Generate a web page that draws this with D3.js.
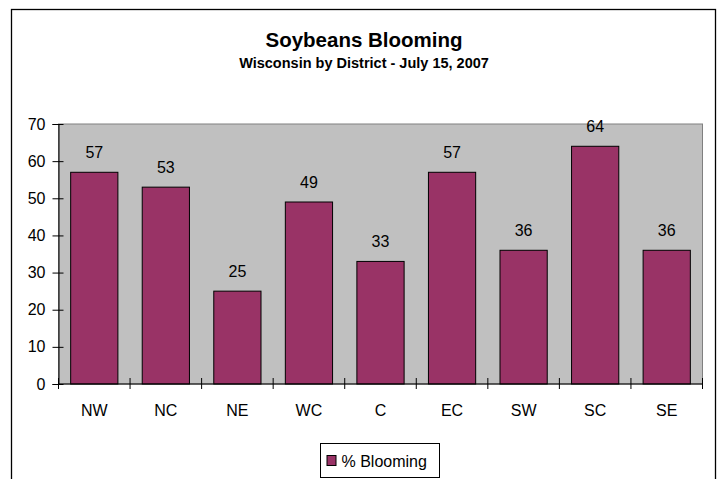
<!DOCTYPE html>
<html>
<head>
<meta charset="utf-8">
<script src="https://cdn.jsdelivr.net/npm/d3@7"></script>
<style>
  body { margin: 0; background: #fff; }
  text { font-family: "Liberation Sans", Arial, sans-serif; fill: #000; }
</style>
</head>
<body>
<div id="chart-holder"></div>
<script>
var districts = ["NW", "NC", "NE", "WC", "C", "EC", "SW", "SC", "SE"]
var blooming = [57, 53, 25, 49, 33, 57, 36, 64, 36]
var yTicks = [0, 10, 20, 30, 40, 50, 60, 70]
var title = "Soybeans Blooming"
var subtitle = "Wisconsin by District - July 15, 2007"
var seriesName = "% Blooming"

var W = 720, H = 479
var plot = { left: 58.5, right: 702.5, top: 124, bottom: 384 }

var svg = d3.select("#chart-holder").append("svg")
            .attr("width", W)
            .attr("height", H)

// chart frame (bottom edge runs off the picture)
svg.append("rect")
    .attr("x", 11.5)
    .attr("y", 9.5)
    .attr("width", 704)
    .attr("height", 500)
    .attr("fill", "#fff")
    .attr("stroke", "#000")
    .attr("stroke-width", 1.3)

svg.append("text")
    .text(title)
    .attr("x", 364)
    .attr("y", 47)
    .attr("font-size", 20.5)
    .attr("font-weight", "bold")
    .style("text-anchor", "middle")

svg.append("text")
    .text(subtitle)
    .attr("x", 364)
    .attr("y", 68)
    .attr("font-size", 14.5)
    .attr("font-weight", "bold")
    .style("text-anchor", "middle")

var x = d3.scaleBand()
          .domain(districts)
          .range([plot.left, plot.right])
          .paddingInner(0.34)
          .paddingOuter(0.17)

var y = d3.scaleLinear()
          .domain([0, 70])
          .range([plot.bottom, plot.top])

// plot area
svg.append("rect")
    .attr("x", plot.left)
    .attr("y", plot.top)
    .attr("width", plot.right - plot.left)
    .attr("height", plot.bottom - plot.top)
    .attr("fill", "#c0c0c0")
    .attr("stroke", "#808080")
    .attr("stroke-width", 1)

svg.selectAll(".bar")
    .data(blooming)
    .enter().append("rect")
    .attr("class", "bar")
    .attr("x", function(d, i) { return x(districts[i]) })
    .attr("y", function(d) { return y(d) })
    .attr("width", x.bandwidth())
    .attr("height", function(d) { return y(0) - y(d) })
    .attr("fill", "#993366")
    .attr("stroke", "#000")
    .attr("stroke-width", 1)

svg.selectAll(".valueLabel")
    .data(blooming)
    .enter().append("text")
    .attr("class", "valueLabel")
    .text(function(d) { return d })
    .attr("x", function(d, i) { return x(districts[i]) + x.bandwidth() / 2 })
    .attr("y", function(d) { return y(d) - 14 })
    .attr("font-size", 16)
    .style("text-anchor", "middle")

// y axis with crossing ticks
var yAxis = svg.append("g")
    .attr("transform", "translate(" + plot.left + ",0)")
    .call(d3.axisLeft(y).tickValues(yTicks).tickSize(6).tickPadding(7))
yAxis.select(".domain").attr("stroke", "#000")
yAxis.selectAll(".tick line").attr("x2", -6).attr("x1", 5).attr("stroke", "#000")
yAxis.selectAll(".tick text")
    .attr("font-size", 16)
    .attr("font-family", "Liberation Sans, Arial, sans-serif")
    .attr("fill", "#000")

// x axis: ticks sit between categories
var xAxis = svg.append("g")
    .attr("transform", "translate(0," + plot.bottom + ")")
xAxis.append("line")
    .attr("x1", plot.left)
    .attr("x2", plot.right)
    .attr("stroke", "#000")
var bounds = districts.map(function(d) { return x(d) - x.step() * x.paddingInner() / 2 })
bounds.push(plot.right)
xAxis.selectAll(".xtick")
    .data(bounds)
    .enter().append("line")
    .attr("class", "xtick")
    .attr("x1", function(d) { return d })
    .attr("x2", function(d) { return d })
    .attr("y1", -6)
    .attr("y2", 5)
    .attr("stroke", "#000")
xAxis.selectAll(".xLabel")
    .data(districts)
    .enter().append("text")
    .attr("class", "xLabel")
    .text(function(d) { return d })
    .attr("x", function(d) { return x(d) + x.bandwidth() / 2 })
    .attr("y", 32)
    .attr("font-size", 16)
    .style("text-anchor", "middle")

// legend
var legend = svg.append("g")
    .attr("transform", "translate(320.5,443.5)")
legend.append("rect")
    .attr("width", 119)
    .attr("height", 34)
    .attr("fill", "#fff")
    .attr("stroke", "#000")
legend.append("rect")
    .attr("x", 6.5)
    .attr("y", 12)
    .attr("width", 9)
    .attr("height", 10)
    .attr("fill", "#993366")
    .attr("stroke", "#000")
legend.append("text")
    .text(seriesName)
    .attr("x", 21)
    .attr("y", 23)
    .attr("font-size", 16)
</script>
</body>
</html>
